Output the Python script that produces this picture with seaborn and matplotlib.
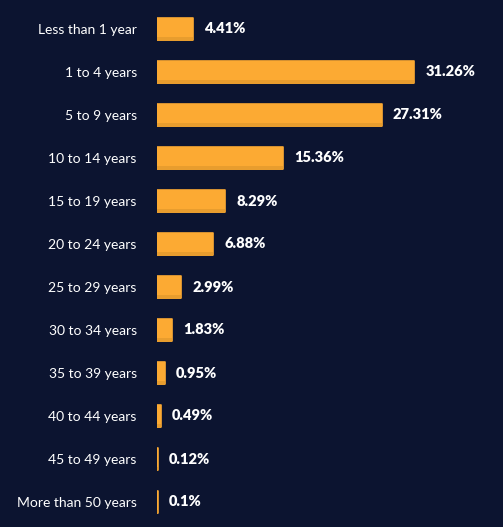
import matplotlib
matplotlib.use("Agg")
import matplotlib.pyplot as plt
import seaborn as sns
import pandas as pd
from matplotlib.patches import Rectangle

# Data
categories = ["Less than 1 year", "1 to 4 years", "5 to 9 years", "10 to 14 years",
              "15 to 19 years", "20 to 24 years", "25 to 29 years", "30 to 34 years",
              "35 to 39 years", "40 to 44 years", "45 to 49 years", "More than 50 years"]
shares = [4.41, 31.26, 27.31, 15.36, 8.29, 6.88, 2.99, 1.83, 0.95, 0.49, 0.12, 0.1]
value_labels = ["4.41%", "31.26%", "27.31%", "15.36%", "8.29%", "6.88%", "2.99%",
                "1.83%", "0.95%", "0.49%", "0.12%", "0.1%"]

bg = "#0c1430"
bar_color = "#fcaa33"
edge_color = "#e89d2e"

df = pd.DataFrame({"category": categories, "share": shares})

sns.set_theme(style="white")
plt.rcParams["font.family"] = ["Lato", "DejaVu Sans"]

fig = plt.figure(figsize=(5.03, 5.27), dpi=100, facecolor=bg)
ax = fig.add_axes([156.8 / 503, 0, 346.2 / 503, 1])
ax.set_facecolor(bg)

sns.barplot(data=df, x="share", y="category", color=bar_color, width=0.53,
            saturation=1, ax=ax)

px_per_unit = 8.24
row_px = 43

# soften the corners a little and add the darker strip at the bottom of each bar
for patch in list(ax.patches):
    patch.set_edgecolor(bar_color)
    patch.set_linewidth(1.2)
    patch.set_joinstyle("round")
    x0, y0 = patch.get_x(), patch.get_y()
    w, h = patch.get_width(), patch.get_height()
    strip_h = 3.5 / row_px
    ax.add_patch(Rectangle((x0, y0 + h - strip_h), w, strip_h + 0.5 / row_px,
                           facecolor=edge_color, edgecolor="none", zorder=3))

for i, (v, lab) in enumerate(zip(shares, value_labels)):
    ax.text(v + 11 / px_per_unit, i, lab, va="center", ha="left",
            color="white", fontsize=10.5, fontweight="heavy")

ax.set_xlim(0, 346.2 / px_per_unit)
ax.set_ylim((527 - 29) / row_px, -29 / row_px)
ax.set_xlabel("")
ax.set_ylabel("")
ax.set_xticks([])
ax.tick_params(axis="y", length=0, pad=14.4, labelsize=10, labelcolor="white")
for s in ax.spines.values():
    s.set_visible(False)

fig.savefig("out.png", dpi=100, facecolor=bg)
